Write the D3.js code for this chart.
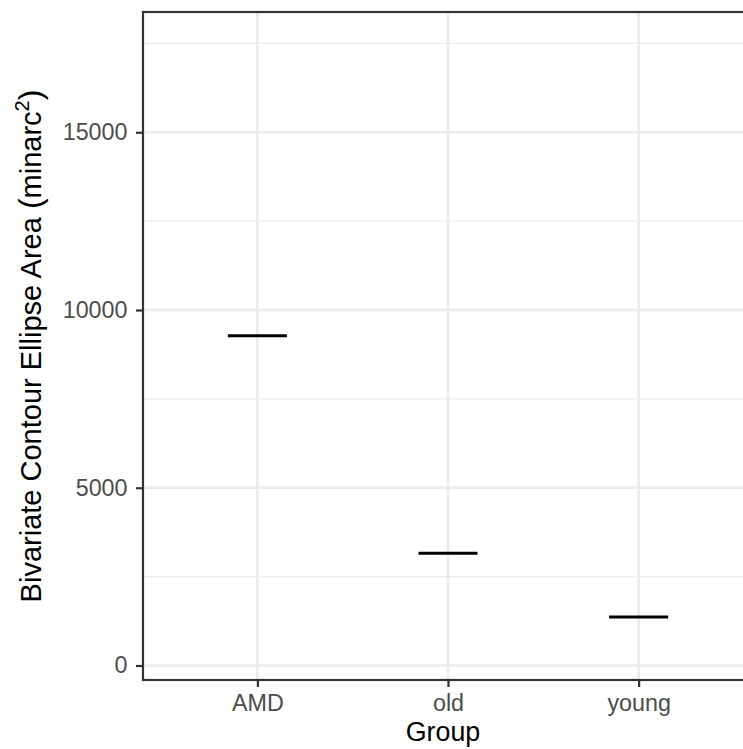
<!DOCTYPE html>
<html>
<head>
<meta charset="utf-8">
<script src="https://cdn.jsdelivr.net/npm/d3@7"></script>
<style>
  body { margin: 0; background: #fff; }
  text { font-family: "Liberation Sans", Arial, sans-serif; }
</style>
</head>
<body>
<script>
// data
const groups = ["AMD", "old", "young"];
const areaValues = [9277, 3156, 1364];
const yTicks = [0, 5000, 10000, 15000];
const yMinorTicks = [2500, 7500, 12500, 17500];

const width = 743;
const height = 749;
const panel = { left: 143, right: 753, top: 12, bottom: 680 };

const svg = d3.select("body")
  .append("svg")
  .attr("width", width)
  .attr("height", height);

const x = d3.scalePoint()
  .domain(groups)
  .range([panel.left, panel.right])
  .padding(0.6);

const y = d3.scaleLinear()
  .domain([-408, 18383])
  .range([panel.bottom, panel.top]);

const grid = svg.append("g");

// minor grid
grid.selectAll(".minor")
  .data(yMinorTicks)
  .enter().append("line")
  .attr("x1", panel.left).attr("x2", panel.right)
  .attr("y1", d => y(d)).attr("y2", d => y(d))
  .attr("stroke", "#ebebeb")
  .attr("stroke-width", 1.3);

// major grid
grid.selectAll(".majorY")
  .data(yTicks)
  .enter().append("line")
  .attr("x1", panel.left).attr("x2", panel.right)
  .attr("y1", d => y(d)).attr("y2", d => y(d))
  .attr("stroke", "#ebebeb")
  .attr("stroke-width", 2.6);

grid.selectAll(".majorX")
  .data(groups)
  .enter().append("line")
  .attr("x1", d => x(d)).attr("x2", d => x(d))
  .attr("y1", panel.top).attr("y2", panel.bottom)
  .attr("stroke", "#ebebeb")
  .attr("stroke-width", 2.6);

// crossbars (mean lines)
const half = x.step() * 0.155;
svg.selectAll(".bar")
  .data(groups)
  .enter().append("line")
  .attr("x1", d => x(d) - half)
  .attr("x2", d => x(d) + half)
  .attr("y1", (d, i) => y(areaValues[i]))
  .attr("y2", (d, i) => y(areaValues[i]))
  .attr("stroke", "#000")
  .attr("stroke-width", 3);

// panel border
svg.append("rect")
  .attr("x", panel.left).attr("y", panel.top)
  .attr("width", panel.right - panel.left)
  .attr("height", panel.bottom - panel.top)
  .attr("fill", "none")
  .attr("stroke", "#333333")
  .attr("stroke-width", 2.2);

// axes
const yAxis = svg.append("g")
  .attr("transform", `translate(${panel.left},0)`)
  .call(d3.axisLeft(y).tickValues(yTicks).tickFormat(d3.format("d")).tickSizeOuter(0).tickSize(7).tickPadding(8.5));

const xAxis = svg.append("g")
  .attr("transform", `translate(0,${panel.bottom})`)
  .call(d3.axisBottom(x).tickSizeOuter(0).tickSize(7).tickPadding(7));

[yAxis, xAxis].forEach(a => {
  a.select(".domain").remove();
  a.selectAll(".tick line").attr("stroke", "#333333").attr("stroke-width", 2.2);
  a.selectAll(".tick text")
    .attr("fill", "#4d4d4d")
    .style("font-size", "23.3px")
    .style("font-family", "'Liberation Sans', Arial, sans-serif");
});

// axis titles
svg.append("text")
  .attr("x", (panel.left + panel.right) / 2 - 5)
  .attr("y", 741)
  .attr("text-anchor", "middle")
  .style("font-size", "26.8px")
  .text("Group");

const yTitle = svg.append("text")
  .attr("transform", `translate(41,${(panel.top + panel.bottom) / 2}) rotate(-90)`)
  .attr("text-anchor", "middle")
  .style("font-size", "29px");
yTitle.append("tspan").text("Bivariate Contour Ellipse Area ");
yTitle.append("tspan").style("font-size", "32px").text("(");
yTitle.append("tspan").text("minarc");
yTitle.append("tspan").style("font-size", "20px").attr("dy", -12).text("2");
yTitle.append("tspan").style("font-size", "32px").attr("dy", 12).text(")");
</script>
</body>
</html>
